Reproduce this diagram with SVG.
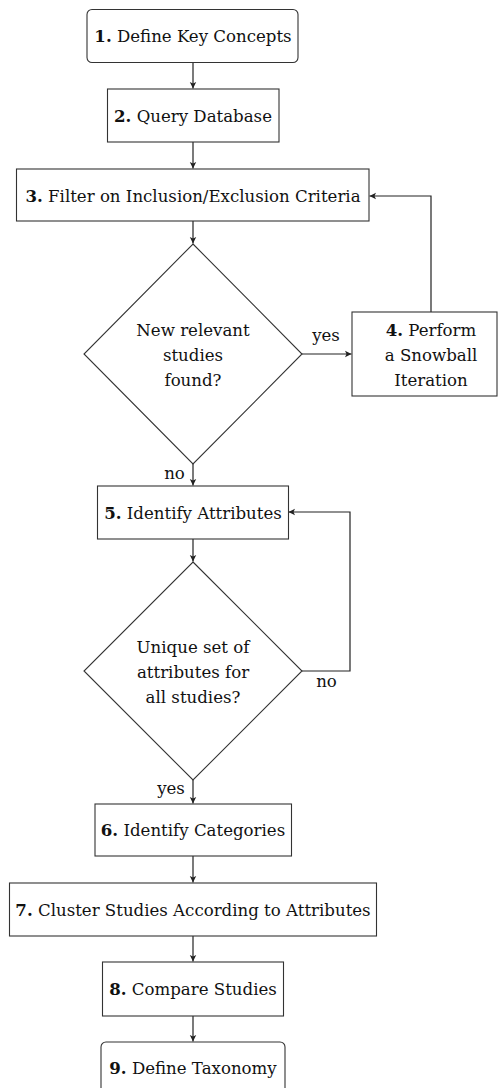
<svg xmlns="http://www.w3.org/2000/svg" width="499" height="1088" viewBox="0 0 499 1088">
<defs>
<marker id="ah" markerUnits="userSpaceOnUse" markerWidth="8" markerHeight="8" viewBox="0 0 8 8" refX="7" refY="4" orient="auto">
<path d="M0.5,0.8 L7,4 L0.5,7.2 L2,4 z" fill="#222"/>
</marker>
<style>
.n{fill:#fff;stroke:#333;stroke-width:1.1}
.c{fill:none;stroke:#222;stroke-width:1.2}
text{font-family:"DejaVu Serif","Liberation Serif",serif;font-size:16.6px;fill:#111;text-anchor:middle}
.b{font-weight:bold}
</style>
</defs>
<rect width="499" height="1088" fill="#fff"/>
<g id="connectors">
<line class="c" x1="193" y1="63" x2="193" y2="88.5" marker-end="url(#ah)"/>
<line class="c" x1="193" y1="142" x2="193" y2="168.5" marker-end="url(#ah)"/>
<line class="c" x1="193" y1="221" x2="193" y2="243.5" marker-end="url(#ah)"/>
<line class="c" x1="302" y1="354" x2="351.5" y2="354" marker-end="url(#ah)"/>
<polyline class="c" points="431,312 431,196 369.5,196" marker-end="url(#ah)"/>
<line class="c" x1="193" y1="464" x2="193" y2="485.5" marker-end="url(#ah)"/>
<line class="c" x1="193" y1="539" x2="193" y2="561.5" marker-end="url(#ah)"/>
<polyline class="c" points="302,671 350,671 350,512 288.5,512" marker-end="url(#ah)"/>
<line class="c" x1="193" y1="780" x2="193" y2="803.5" marker-end="url(#ah)"/>
<line class="c" x1="193" y1="856" x2="193" y2="882.5" marker-end="url(#ah)"/>
<line class="c" x1="193" y1="936" x2="193" y2="961.5" marker-end="url(#ah)"/>
<line class="c" x1="193" y1="1016" x2="193" y2="1041.5" marker-end="url(#ah)"/>
<text x="326" y="341">yes</text>
<text x="174.5" y="479">no</text>
<text x="326.5" y="687">no</text>
<text x="171" y="794">yes</text>
</g>
<g id="n1">
<rect class="n" x="87" y="9.5" width="211" height="53" rx="5"/>
<text x="193" y="41.5"><tspan class="b">1.</tspan> Define Key Concepts</text>
</g>
<g id="n2">
<rect class="n" x="107.5" y="89" width="171.5" height="53"/>
<text x="193" y="121.5"><tspan class="b">2.</tspan> Query Database</text>
</g>
<g id="n3">
<rect class="n" x="16.5" y="169" width="352.5" height="52"/>
<text x="193" y="201.5"><tspan class="b">3.</tspan> Filter on Inclusion/Exclusion Criteria</text>
</g>
<g id="d1">
<polygon class="n" points="193,244 302,354 193,464 84,354"/>
<text x="193" y="336">New relevant</text>
<text x="193" y="361">studies</text>
<text x="193" y="386">found?</text>
</g>
<g id="n4">
<rect class="n" x="352" y="312" width="145" height="84"/>
<text x="431" y="336"><tspan class="b">4.</tspan> Perform</text>
<text x="431" y="361">a Snowball</text>
<text x="431" y="386">Iteration</text>
</g>
<g id="n5">
<rect class="n" x="97.5" y="486" width="191" height="53"/>
<text x="193" y="518.5"><tspan class="b">5.</tspan> Identify Attributes</text>
</g>
<g id="d2">
<polygon class="n" points="193,562 302,671 193,780 84,671"/>
<text x="193" y="653">Unique set of</text>
<text x="193" y="678">attributes for</text>
<text x="193" y="703">all studies?</text>
</g>
<g id="n6">
<rect class="n" x="95" y="804" width="196.5" height="52"/>
<text x="193" y="836"><tspan class="b">6.</tspan> Identify Categories</text>
</g>
<g id="n7">
<rect class="n" x="9.5" y="883" width="367" height="53"/>
<text x="193" y="915.5"><tspan class="b">7.</tspan> Cluster Studies According to Attributes</text>
</g>
<g id="n8">
<rect class="n" x="102.5" y="962" width="181" height="54"/>
<text x="193" y="994.5"><tspan class="b">8.</tspan> Compare Studies</text>
</g>
<g id="n9">
<rect class="n" x="101" y="1042" width="184" height="53" rx="5"/>
<text x="193" y="1074"><tspan class="b">9.</tspan> Define Taxonomy</text>
</g>
</svg>
